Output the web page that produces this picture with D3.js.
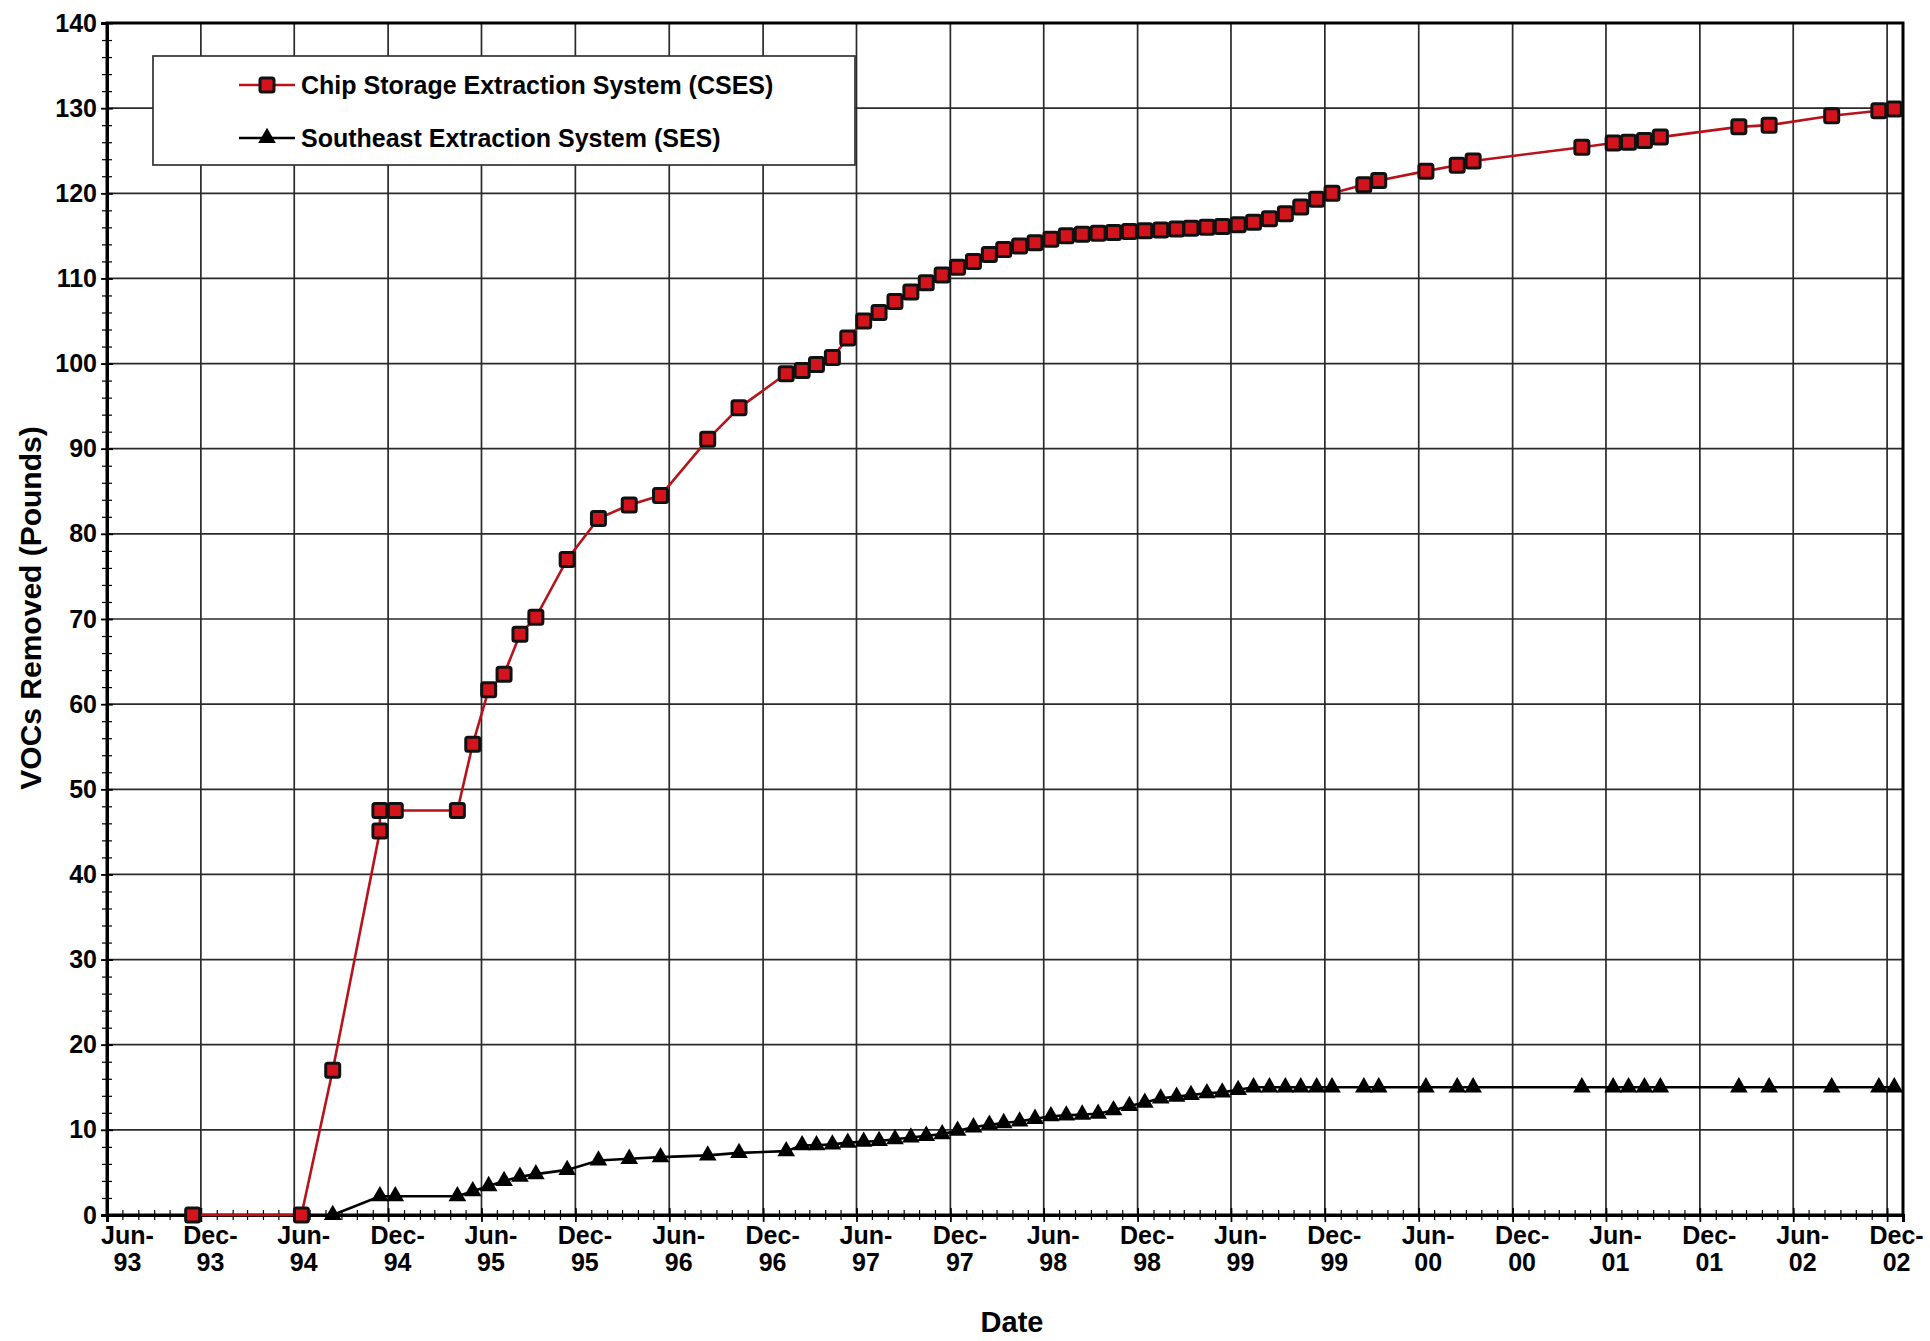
<!DOCTYPE html>
<html>
<head>
<meta charset="utf-8">
<script src="https://cdn.jsdelivr.net/npm/d3@7"></script>
<style>
  body { margin: 0; background: #fff; }
  text { font-family: "Liberation Sans", Arial, sans-serif; font-weight: bold; fill: #000; }
</style>
</head>
<body>
<script>
// cumulative VOC removal
const csesDates = [
  "1993-11-15", "1994-06-15", "1994-08-15", "1994-11-15", "1994-11-15", "1994-12-15",
  "1995-04-15", "1995-05-15", "1995-06-15", "1995-07-15", "1995-08-15", "1995-09-15",
  "1995-11-15", "1996-01-15", "1996-03-15", "1996-05-15", "1996-08-15", "1996-10-15",
  "1997-01-15", "1997-02-15", "1997-03-15", "1997-04-15", "1997-05-15", "1997-06-15",
  "1997-07-15", "1997-08-15", "1997-09-15", "1997-10-15", "1997-11-15", "1997-12-15",
  "1998-01-15", "1998-02-15", "1998-03-15", "1998-04-15", "1998-05-15", "1998-06-15",
  "1998-07-15", "1998-08-15", "1998-09-15", "1998-10-15", "1998-11-15", "1998-12-15",
  "1999-01-15", "1999-02-15", "1999-03-15", "1999-04-15", "1999-05-15", "1999-06-15",
  "1999-07-15", "1999-08-15", "1999-09-15", "1999-10-15", "1999-11-15", "1999-12-15",
  "2000-02-15", "2000-03-15", "2000-06-15", "2000-08-15", "2000-09-15",
  "2001-04-15", "2001-06-15", "2001-07-15", "2001-08-15", "2001-09-15",
  "2002-02-15", "2002-04-15", "2002-08-15", "2002-11-15", "2002-12-15"
];
const csesValues = [
  0, 0, 17.0, 45.1, 47.5, 47.5,
  47.5, 55.3, 61.7, 63.5, 68.2, 70.2,
  77.0, 81.8, 83.4, 84.5, 91.1, 94.8,
  98.8, 99.2, 99.9, 100.7, 103.0, 105.0,
  106.0, 107.3, 108.4, 109.5, 110.4, 111.3,
  112.0, 112.8, 113.4, 113.8, 114.2, 114.6,
  115.0, 115.2, 115.3, 115.4, 115.5, 115.6,
  115.7, 115.8, 115.9, 116.0, 116.1, 116.3,
  116.6, 117.0, 117.6, 118.4, 119.3, 120.0,
  121.0, 121.5, 122.6, 123.3, 123.8,
  125.4, 125.9, 126.0, 126.2, 126.6,
  127.8, 128.0, 129.1, 129.7, 129.9
];

const sesDates = [
  "1994-08-15", "1994-11-15", "1994-12-15",
  "1995-04-15", "1995-05-15", "1995-06-15", "1995-07-15", "1995-08-15", "1995-09-15",
  "1995-11-15", "1996-01-15", "1996-03-15", "1996-05-15", "1996-08-15", "1996-10-15",
  "1997-01-15", "1997-02-15", "1997-03-15", "1997-04-15", "1997-05-15", "1997-06-15",
  "1997-07-15", "1997-08-15", "1997-09-15", "1997-10-15", "1997-11-15", "1997-12-15",
  "1998-01-15", "1998-02-15", "1998-03-15", "1998-04-15", "1998-05-15", "1998-06-15",
  "1998-07-15", "1998-08-15", "1998-09-15", "1998-10-15", "1998-11-15", "1998-12-15",
  "1999-01-15", "1999-02-15", "1999-03-15", "1999-04-15", "1999-05-15", "1999-06-15",
  "1999-07-15", "1999-08-15", "1999-09-15", "1999-10-15", "1999-11-15", "1999-12-15",
  "2000-02-15", "2000-03-15", "2000-06-15", "2000-08-15", "2000-09-15",
  "2001-04-15", "2001-06-15", "2001-07-15", "2001-08-15", "2001-09-15",
  "2002-02-15", "2002-04-15", "2002-08-15", "2002-11-15", "2002-12-15"
];
const sesValues = [
  0, 2.2, 2.2,
  2.2, 2.8, 3.4, 4.0, 4.5, 4.8,
  5.3, 6.4, 6.6, 6.8, 7.0, 7.3,
  7.5, 8.2, 8.2, 8.3, 8.5, 8.6,
  8.7, 8.9, 9.1, 9.3, 9.5, 9.9,
  10.3, 10.6, 10.8, 11.0, 11.3, 11.6,
  11.7, 11.8, 11.9, 12.3, 12.8, 13.2,
  13.7, 13.9, 14.1, 14.3, 14.4, 14.7,
  15.0, 15.0, 15.0, 15.0, 15.0, 15.0,
  15.0, 15.0, 15.0, 15.0, 15.0,
  15.0, 15.0, 15.0, 15.0, 15.0,
  15.0, 15.0, 15.0, 15.0, 15.0
];

const seriesNames = ["Chip Storage Extraction System (CSES)", "Southeast Extraction System (SES)"];
const yTicks = [0, 10, 20, 30, 40, 50, 60, 70, 80, 90, 100, 110, 120, 130, 140];

const width = 1930, height = 1341;
const plotLeft = 107, plotRight = 1903, plotTop = 23, plotBottom = 1215;
const redLine = "#b8121a", redFill = "#d4141c";

const parse = d3.timeParse("%Y-%m-%d");
const cses = csesDates.map((d, i) => ({ date: parse(d), value: csesValues[i] }));
const ses = sesDates.map((d, i) => ({ date: parse(d), value: sesValues[i] }));

const svg = d3.select("body").append("svg")
  .attr("width", width)
  .attr("height", height);

svg.append("rect").attr("width", width).attr("height", height).attr("fill", "#fff");

const x = d3.scaleTime()
  .domain([new Date(1993, 5, 1), new Date(2003, 0, 1)])
  .range([plotLeft, plotRight]);
const y = d3.scaleLinear().domain([0, 140]).range([plotBottom, plotTop]);

// Jun / Dec ticks every six months, minor ticks monthly
const xTicks = d3.timeMonth.range(new Date(1993, 5, 1), new Date(2003, 0, 1), 6);
const minorX = d3.timeMonth.range(new Date(1993, 5, 1), new Date(2003, 0, 1));

// grid
const grid = svg.append("g").attr("stroke", "#2a2a2a").attr("stroke-width", 1.7);
grid.selectAll(".hg")
  .data(yTicks.slice(1, -1))
  .enter().append("line")
  .attr("x1", plotLeft).attr("x2", plotRight)
  .attr("y1", d => y(d)).attr("y2", d => y(d));
grid.selectAll(".vg")
  .data(xTicks.slice(1))
  .enter().append("line")
  .attr("x1", d => x(d)).attr("x2", d => x(d))
  .attr("y1", plotTop).attr("y2", plotBottom);

// frame
svg.append("rect")
  .attr("x", plotLeft).attr("y", plotTop)
  .attr("width", plotRight - plotLeft).attr("height", plotBottom - plotTop)
  .attr("fill", "none").attr("stroke", "#000").attr("stroke-width", 3);

// y axis
const yAxis = svg.append("g")
  .attr("transform", `translate(${plotLeft},0)`)
  .call(d3.axisLeft(y).tickValues(yTicks).tickSize(6).tickPadding(4).tickFormat(d3.format("d")));
yAxis.select(".domain").attr("stroke-width", 3);
yAxis.selectAll(".tick line").attr("x1", 6).attr("stroke-width", 1.7);
yAxis.selectAll("text").style("font-size", "25px").attr("font-family", null);

const yMinor = svg.append("g")
  .attr("transform", `translate(${plotLeft},0)`)
  .call(d3.axisLeft(y).tickValues(d3.range(0, 141, 2)).tickSize(5).tickFormat(""));
yMinor.select(".domain").remove();
yMinor.selectAll(".tick line").attr("x1", 5).attr("stroke-width", 1.2);

// x axis
const xAxis = svg.append("g")
  .attr("transform", `translate(0,${plotBottom})`)
  .call(d3.axisBottom(x).tickValues(xTicks).tickSize(7).tickFormat(""));
xAxis.select(".domain").attr("stroke-width", 3);
xAxis.selectAll(".tick line").attr("y1", -7).attr("stroke-width", 1.7);
// the first label sits clear of the "0" on the value axis
const xLab = xAxis.selectAll(".tick").append("text")
  .attr("text-anchor", "middle")
  .attr("transform", (d, i) => `translate(${i === 0 ? 20 : 9},0)`)
  .style("font-size", "25px");
xLab.append("tspan").attr("x", 0).attr("y", 29).text(d3.timeFormat("%b-"));
xLab.append("tspan").attr("x", 0).attr("y", 56).text(d3.timeFormat("%y"));

const xMinor = svg.append("g")
  .attr("transform", `translate(0,${plotBottom})`)
  .call(d3.axisBottom(x).tickValues(minorX).tickSize(5).tickFormat(""));
xMinor.select(".domain").remove();
xMinor.selectAll(".tick line").attr("y1", -5).attr("stroke-width", 1.2);

// series
const line = d3.line().x(d => x(d.date)).y(d => y(d.value));

svg.append("path").datum(ses)
  .attr("fill", "none").attr("stroke", "#000").attr("stroke-width", 2.6)
  .attr("d", line);
svg.append("g").selectAll("path")
  .data(ses)
  .enter().append("path")
  .attr("transform", d => `translate(${x(d.date)},${y(d.value)})`)
  .attr("d", d3.symbol(d3.symbolTriangle, 135))
  .attr("fill", "#000");

svg.append("path").datum(cses)
  .attr("fill", "none").attr("stroke", redLine).attr("stroke-width", 2.6)
  .attr("d", line);
svg.append("g").selectAll("rect")
  .data(cses)
  .enter().append("rect")
  .attr("x", d => x(d.date) - 7).attr("y", d => y(d.value) - 7)
  .attr("width", 14).attr("height", 14).attr("rx", 2)
  .attr("fill", redFill).attr("stroke", "#111").attr("stroke-width", 3);

// legend
const legend = svg.append("g");
legend.append("rect")
  .attr("x", 153).attr("y", 56).attr("width", 702).attr("height", 109)
  .attr("fill", "#fff").attr("stroke", "#333").attr("stroke-width", 1.7);
const rows = legend.selectAll(".row")
  .data(seriesNames)
  .enter().append("g")
  .attr("transform", (d, i) => `translate(0,${85 + i * 53})`);
rows.append("line")
  .attr("x1", 239).attr("x2", 295)
  .attr("stroke", (d, i) => i === 0 ? redLine : "#000").attr("stroke-width", 2.6);
rows.filter((d, i) => i === 0).append("rect")
  .attr("x", 260).attr("y", -7).attr("width", 14).attr("height", 14).attr("rx", 2)
  .attr("fill", redFill).attr("stroke", "#111").attr("stroke-width", 3);
rows.filter((d, i) => i === 1).append("path")
  .attr("transform", "translate(267,0)")
  .attr("d", d3.symbol(d3.symbolTriangle, 135));
rows.append("text")
  .attr("x", 301).attr("dy", "0.35em")
  .style("font-size", "25px")
  .text(d => d);

// axis titles
svg.append("text")
  .attr("text-anchor", "middle")
  .attr("transform", "translate(41,608) rotate(-90)")
  .style("font-size", "30px")
  .text("VOCs Removed (Pounds)");
svg.append("text")
  .attr("text-anchor", "middle")
  .attr("x", (plotLeft + plotRight) / 2 + 7).attr("y", 1332)
  .style("font-size", "29px")
  .text("Date");
</script>
</body>
</html>
